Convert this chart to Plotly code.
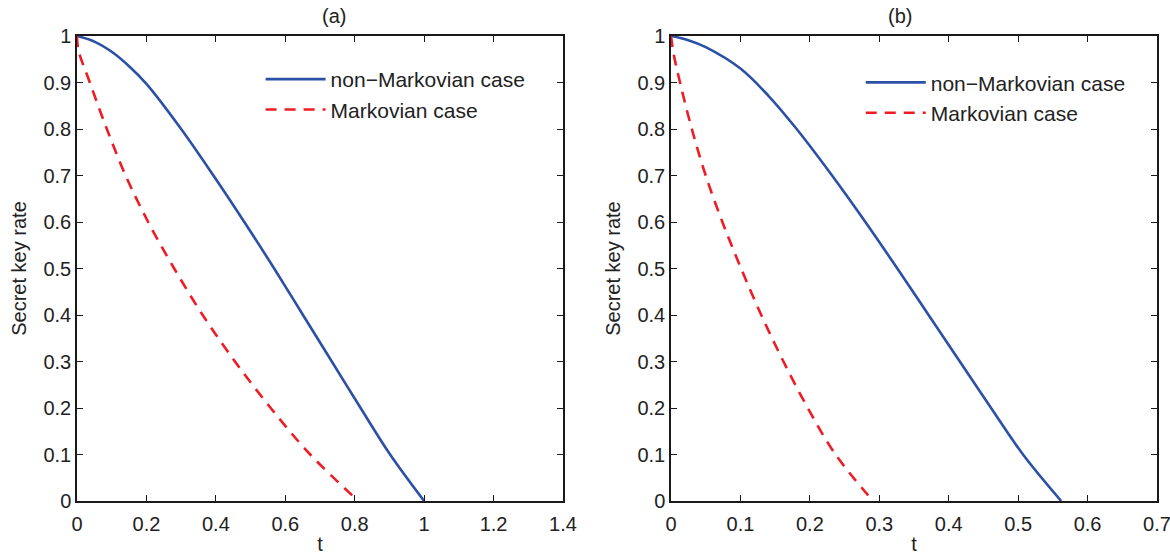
import plotly.graph_objects as go

# ---- data ----
# panel (a)
t_a_nonmarkov = [0, 0.05, 0.1, 0.15, 0.2, 0.3, 0.393, 0.482, 0.568, 0.651, 0.734, 0.817, 0.902, 1.0]
rate_a_nonmarkov = [1, 0.988, 0.966, 0.935, 0.897, 0.8, 0.7, 0.6, 0.5, 0.4, 0.3, 0.2, 0.1, 0]
t_a_markov = [0, 0.004, 0.037, 0.086, 0.140, 0.205, 0.280, 0.362, 0.455, 0.558, 0.672, 0.81]
rate_a_markov = [1, 0.97, 0.9, 0.8, 0.7, 0.6, 0.5, 0.4, 0.3, 0.2, 0.1, 0]
# panel (b)
t_b_nonmarkov = [0, 0.025, 0.05, 0.1, 0.14, 0.181, 0.232, 0.28, 0.326, 0.371, 0.416, 0.461, 0.507, 0.562]
rate_b_nonmarkov = [1, 0.991, 0.976, 0.93, 0.872, 0.8, 0.7, 0.6, 0.5, 0.4, 0.3, 0.2, 0.1, 0]
t_b_markov = [0, 0.004, 0.013, 0.030, 0.050, 0.074, 0.101, 0.130, 0.162, 0.197, 0.237, 0.291]
rate_b_markov = [1, 0.96, 0.9, 0.8, 0.7, 0.6, 0.5, 0.4, 0.3, 0.2, 0.1, 0]

series_names = ["non\u2212Markovian case", "Markovian case"]
panel_titles = ["(a)", "(b)"]
x_ranges = [[0, 1.4], [0, 0.7]]
x_tickvals = [[0, 0.2, 0.4, 0.6, 0.8, 1.0, 1.2, 1.4],
              [0, 0.1, 0.2, 0.3, 0.4, 0.5, 0.6, 0.7]]
x_ticktext = [["0", "0.2", "0.4", "0.6", "0.8", "1", "1.2", "1.4"],
              ["0", "0.1", "0.2", "0.3", "0.4", "0.5", "0.6", "0.7"]]

BLUE = "#2b50a5"
RED = "#ee1d25"
FONT = "Liberation Sans, Arial, sans-serif"
TXT = "#222222"

fig = go.Figure()

def add(tx, ry, name, color, dash, xa, ya, leg):
    fig.add_trace(go.Scatter(x=tx, y=ry, mode="lines", name=name,
                             line=dict(color=color, width=2.6, dash=dash, shape="spline", smoothing=1.0),
                             xaxis=xa, yaxis=ya, legend=leg))

add(t_a_nonmarkov, rate_a_nonmarkov, series_names[0], BLUE, "solid", "x", "y", "legend")
add(t_a_markov, rate_a_markov, series_names[1], RED, "11px,8px", "x", "y", "legend")
add(t_b_nonmarkov, rate_b_nonmarkov, series_names[0], BLUE, "solid", "x2", "y2", "legend2")
add(t_b_markov, rate_b_markov, series_names[1], RED, "11px,8px", "x2", "y2", "legend2")

axis_common = dict(showline=True, linecolor="#1a1a1a", linewidth=1.5, mirror="ticks",
                   ticks="inside", ticklen=6, tickcolor="#1a1a1a", tickwidth=1,
                   showgrid=False, zeroline=False, automargin=False,
                   ticklabeloverflow="allow",
                   tickfont=dict(family=FONT, size=20, color=TXT))

doms = [[0, 0.45], [0.55, 1.0]]
for i, (xn, yn) in enumerate([("xaxis", "yaxis"), ("xaxis2", "yaxis2")]):
    xa = dict(axis_common)
    xa.update(domain=doms[i], range=x_ranges[i], tickvals=x_tickvals[i], ticktext=x_ticktext[i],
              anchor="y" if i == 0 else "y2", ticklabelstandoff=4,
              title=dict(text="t", font=dict(family=FONT, size=20, color=TXT), standoff=6))
    ya = dict(axis_common)
    ya.update(domain=[0, 1], range=[0, 1], dtick=0.1, tick0=0,
              anchor="x" if i == 0 else "x2",
              title=dict(text="Secret key rate", font=dict(family=FONT, size=20, color=TXT), standoff=11))
    fig.update_layout({xn: xa, yn: ya})

for i in range(2):
    fig.add_annotation(text=panel_titles[i], xref="paper", yref="paper",
                       x=(doms[i][0] + doms[i][1]) / 2, y=1, yanchor="bottom", yshift=7,
                       showarrow=False, font=dict(family=FONT, size=20, color=TXT))

leg_common = dict(bgcolor="rgba(0,0,0,0)", borderwidth=0, itemwidth=60,
                  font=dict(family=FONT, size=21, color=TXT),
                  xanchor="left", yanchor="top", tracegroupgap=0)
fig.update_layout(
    legend=dict(leg_common, x=0.170, y=0.9505),
    legend2=dict(leg_common, x=0.7257, y=0.9435),
    width=1170, height=555,
    margin=dict(l=77, r=13, t=36, b=54),
    paper_bgcolor="white", plot_bgcolor="white",
    font=dict(family=FONT, size=20, color=TXT),
)

fig.write_html("out.html", config={"displayModeBar": False},
               post_script="document.body.style.margin='0px';document.body.style.overflow='hidden';")
